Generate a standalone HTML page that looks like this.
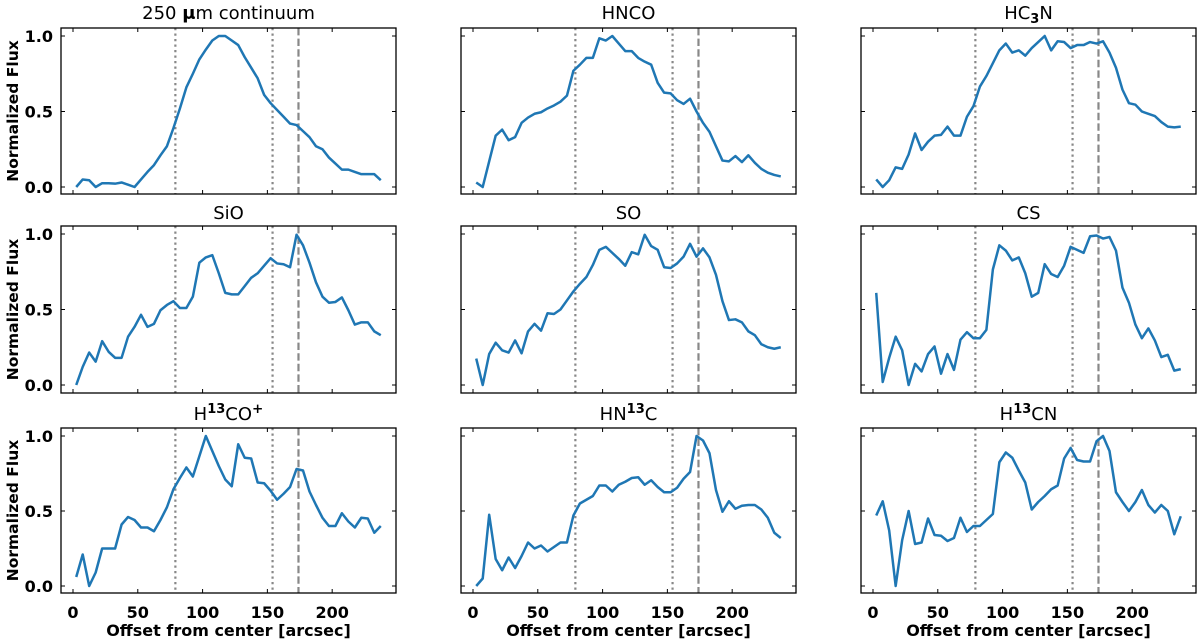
<!DOCTYPE html>
<html><head><meta charset="utf-8"><style>
html,body{margin:0;padding:0;background:#fff}
svg{display:block;font-family:"DejaVu Sans","Liberation Sans",sans-serif}
</style></head><body>
<svg id="chart" width="1200" height="640" viewBox="0 0 1200 640" xmlns="http://www.w3.org/2000/svg"></svg>
<script>
const offsets = [];
for (let i = 0; i < 48; i++) offsets.push(2.5 + 5 * i);
const titles = ["250 μm continuum","HNCO","HC3N","SiO","SO","CS","H13CO+","HN13C","H13CN"];
const xTicks = [0,50,100,150,200];
const yTicks = [0,0.5,1];
const yTickLabels = ["0.0","0.5","1.0"];
const dottedLines = [79,154];
const dashedLines = [174];
const sContinuum = [0,0.05,0.045,0,0.025,0.025,0.022,0.03,0.015,0,0.05,0.1,0.145,0.21,0.27,0.39,0.52,0.66,0.75,0.845,0.91,0.97,1,1,0.97,0.94,0.86,0.79,0.72,0.61,0.555,0.51,0.465,0.42,0.41,0.37,0.33,0.27,0.25,0.195,0.155,0.115,0.115,0.1,0.085,0.085,0.085,0.045];
const sHNCO = [0.03,0,0.17,0.34,0.38,0.31,0.33,0.425,0.46,0.485,0.495,0.52,0.54,0.565,0.605,0.77,0.81,0.855,0.855,0.985,0.97,1,0.95,0.9,0.9,0.855,0.83,0.81,0.69,0.625,0.62,0.575,0.55,0.585,0.5,0.425,0.365,0.27,0.175,0.17,0.205,0.165,0.21,0.16,0.12,0.095,0.08,0.07];
const sHC3N = [0.05,0,0.045,0.13,0.12,0.215,0.355,0.245,0.3,0.34,0.345,0.4,0.34,0.34,0.465,0.535,0.665,0.735,0.82,0.905,0.95,0.89,0.905,0.87,0.92,0.96,1,0.905,0.965,0.96,0.92,0.94,0.94,0.96,0.95,0.965,0.89,0.79,0.645,0.555,0.545,0.5,0.485,0.47,0.43,0.4,0.395,0.4];
const sSiO = [0,0.12,0.215,0.155,0.29,0.22,0.18,0.18,0.32,0.385,0.465,0.385,0.405,0.495,0.53,0.555,0.51,0.51,0.585,0.81,0.845,0.86,0.74,0.61,0.6,0.6,0.655,0.71,0.74,0.79,0.84,0.805,0.8,0.78,0.995,0.925,0.81,0.68,0.585,0.545,0.55,0.58,0.495,0.4,0.415,0.415,0.355,0.33];
const sSO = [0.175,0,0.205,0.28,0.23,0.215,0.295,0.21,0.355,0.405,0.36,0.475,0.47,0.5,0.56,0.62,0.67,0.715,0.795,0.895,0.915,0.875,0.835,0.79,0.88,0.865,0.995,0.92,0.895,0.78,0.775,0.805,0.85,0.935,0.85,0.905,0.845,0.73,0.555,0.43,0.435,0.415,0.355,0.33,0.27,0.25,0.24,0.25];
const sCS = [0.61,0.02,0.18,0.32,0.23,0,0.14,0.09,0.205,0.255,0.075,0.205,0.1,0.3,0.35,0.31,0.31,0.365,0.765,0.925,0.89,0.825,0.845,0.74,0.585,0.61,0.8,0.735,0.715,0.79,0.915,0.895,0.875,0.985,0.99,0.97,0.98,0.89,0.645,0.545,0.4,0.31,0.375,0.295,0.185,0.2,0.095,0.105];
const sH13COp = [0.06,0.21,0,0.09,0.25,0.25,0.25,0.41,0.46,0.44,0.39,0.39,0.365,0.44,0.525,0.645,0.72,0.79,0.73,0.865,1,0.9,0.8,0.71,0.665,0.945,0.855,0.85,0.69,0.685,0.635,0.575,0.615,0.66,0.78,0.77,0.63,0.54,0.455,0.4,0.4,0.485,0.43,0.39,0.455,0.45,0.355,0.4];
const sHN13C = [0,0.05,0.475,0.18,0.105,0.19,0.12,0.2,0.29,0.25,0.27,0.23,0.26,0.29,0.29,0.47,0.55,0.575,0.6,0.67,0.67,0.63,0.675,0.695,0.72,0.725,0.675,0.705,0.66,0.625,0.625,0.655,0.715,0.76,1,0.97,0.885,0.64,0.495,0.565,0.515,0.535,0.54,0.54,0.51,0.455,0.355,0.32];
const sH13CN = [0.47,0.565,0.37,0,0.305,0.5,0.28,0.29,0.45,0.34,0.335,0.3,0.32,0.455,0.36,0.4,0.4,0.44,0.48,0.825,0.89,0.855,0.77,0.69,0.51,0.56,0.6,0.645,0.67,0.85,0.92,0.84,0.83,0.83,0.965,1,0.9,0.625,0.56,0.5,0.56,0.64,0.54,0.49,0.54,0.5,0.345,0.465];
const series = [sContinuum,sHNCO,sHC3N,sSiO,sSO,sCS,sH13COp,sHN13C,sH13CN];

const NS = "http://www.w3.org/2000/svg";
const svg = document.getElementById("chart");
function mk(tag, attrs, parent) {
  const e = document.createElementNS(NS, tag);
  for (const k in attrs) e.setAttribute(k, attrs[k]);
  (parent || svg).appendChild(e);
  return e;
}
const colLeft = [61,461,861];
const boxW = 335;
const rowBox = [[28,194],[226,393],[428,593]];
const rowY = [[187,36],[385,234],[586,436]];
const titleY = [19,219,420];
const xMin = -9.25, xMax = 249.25;

for (let p = 0; p < 9; p++) {
  const r = Math.floor(p / 3), c = p % 3;
  const L = colLeft[c], R = L + boxW, T = rowBox[r][0], B = rowBox[r][1];
  const xs = v => L + (v - xMin) / (xMax - xMin) * boxW;
  const ys = v => rowY[r][0] + (rowY[r][1] - rowY[r][0]) * v;
  const g = mk("g", {});
  
  
  const t = mk("text", {x: (L + R) / 2, y: titleY[r], "text-anchor": "middle", "font-size": "18"}, g);
  
  
  const tt = titles[p];
  if (p === 0) {
    t.innerHTML = '250 <tspan font-weight="bold">μ</tspan>m continuum';
  } else if (tt === "HC3N") {
    t.innerHTML = 'HC<tspan font-weight="bold" font-size="13" dy="4">3</tspan><tspan dy="-4">N</tspan>';
  } else if (tt.indexOf("13") >= 0) {
    const parts = tt.split("13");
    let rest = parts[1];
    let plus = "";
    if (rest.endsWith("+")) { rest = rest.slice(0, -1); plus = '<tspan font-size="13.5" font-weight="bold" dy="-7">+</tspan>'; }
    t.innerHTML = parts[0] + '<tspan font-weight="bold" font-size="13" dy="-7">13</tspan><tspan dy="7">' + rest + '</tspan>' + plus;
  } else {
    t.textContent = tt;
  }
  dottedLines.forEach(v => {
    const l = mk("line", {x1: xs(v), x2: xs(v), y1: T, y2: B, stroke: "#888", "stroke-width": 2.2, "stroke-dasharray": "2.2,3.3"}, g);
    
    
  });
  dashedLines.forEach(v => {
    const l = mk("line", {x1: xs(v), x2: xs(v), y1: T, y2: B, stroke: "#888", "stroke-width": 2.2, "stroke-dasharray": "7.4,3.2"}, g);
    
    
  });
  const d = series[p].map((v, i) => (i ? "L" : "M") + xs(offsets[i]).toFixed(2) + "," + ys(v).toFixed(2)).join("");
  const path = mk("path", {d: d, fill: "none", stroke: "#1f77b4", "stroke-width": 2.5, "stroke-linejoin": "round"}, g);
  
  
  const box = mk("rect", {x: L, y: T, width: boxW, height: B - T, fill: "none", stroke: "#000", "stroke-width": 1.3}, g);
  
  
  xTicks.forEach(v => {
    const x = xs(v);
    mk("line", {x1: x, x2: x, y1: B, y2: B - 4, stroke: "#000", "stroke-width": 1}, g);
    mk("line", {x1: x, x2: x, y1: T, y2: T + 4, stroke: "#000", "stroke-width": 1}, g);
    if (r === 2) {
      const lb = mk("text", {x: x, y: 618, "text-anchor": "middle", "font-size": "16", "font-weight": "bold"}, g);
      
      
      lb.textContent = v;
    }
  });
  yTicks.forEach((v, i) => {
    const y = ys(v);
    mk("line", {x1: L, x2: L + 4, y1: y, y2: y, stroke: "#000", "stroke-width": 1}, g);
    mk("line", {x1: R, x2: R - 4, y1: y, y2: y, stroke: "#000", "stroke-width": 1}, g);
    if (c === 0) {
      const lb = mk("text", {x: 53, y: y + 6, "text-anchor": "end", "font-size": "16", "font-weight": "bold"}, g);
      
      
      lb.textContent = yTickLabels[i];
    }
  });
  if (c === 0) {
    const cy = (T + B) / 2;
    const yl = mk("text", {x: 0, y: 0, transform: "translate(18," + cy + ") rotate(-90)", "text-anchor": "middle", "font-size": "15.5", "font-weight": "bold"}, g);
    
    
    yl.textContent = "Normalized Flux";
  }
  if (r === 2) {
    const xl = mk("text", {x: (L + R) / 2, y: 636, "text-anchor": "middle", "font-size": "16", "font-weight": "bold"}, g);
    
    
    xl.textContent = "Offset from center [arcsec]";
  }
}
</script>
</body></html>
